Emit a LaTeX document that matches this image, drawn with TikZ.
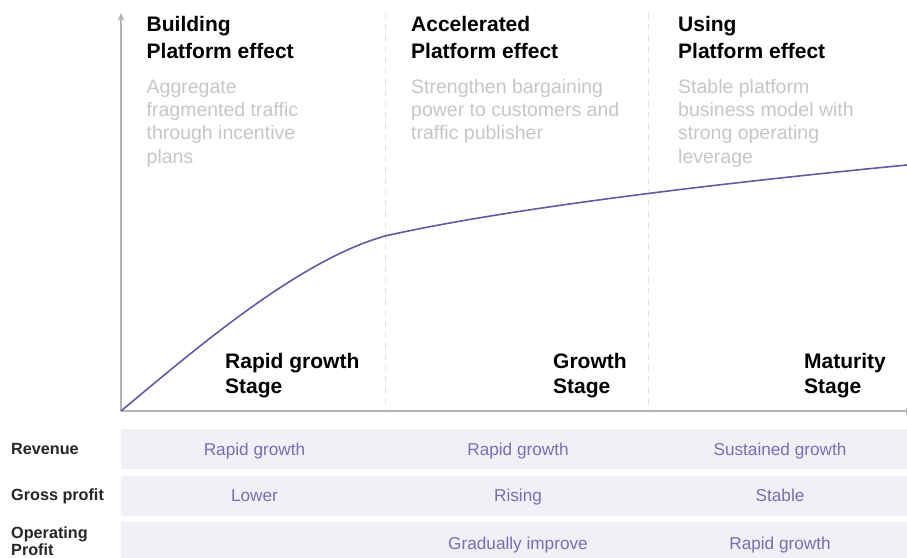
\documentclass[tikz,border=0pt]{standalone}
\usepackage{fontspec}
\setmainfont{Liberation Sans}
\usetikzlibrary{arrows.meta}
\definecolor{curvec}{HTML}{6A55A6}
\definecolor{cellbg}{HTML}{F1F0F7}
\definecolor{celltxt}{HTML}{7D6BB5}
\definecolor{desc}{HTML}{C6C6C6}
\definecolor{axisc}{HTML}{B4B4B4}
\definecolor{dashc}{HTML}{E0E0E0}
\tikzset{
  head/.style={anchor=base west, align=left, font=\fontsize{21}{26.6}\selectfont\bfseries, text=black, inner sep=0pt},
  descr/.style={anchor=base west, align=left, font=\fontsize{19.5}{23.3}\selectfont, text=desc, inner sep=0pt},
  stagelbl/.style={anchor=base west, align=left, font=\fontsize{21}{25}\selectfont\bfseries, text=black, inner sep=0pt},
  rowlbl/.style={anchor=base west, align=left, font=\fontsize{16.2}{17}\selectfont\bfseries, text=black!85, inner sep=0pt},
  cellrow/.style={fill=cellbg, draw=none, inner sep=0pt, anchor=north west},
  celltext/.style={anchor=base, font=\fontsize{17.2}{20}\selectfont, text=celltxt, inner sep=0pt},
  divider/.style={dashc, line width=1pt, dash pattern=on 6pt off 5pt},
}
\begin{document}
\begin{tikzpicture}[x=1pt,y=-1pt]
\useasboundingbox (0,0) rectangle (907,557);
% axes
\coordinate (O) at (121,411);
\coordinate (Ytop) at (121,13);
\coordinate (Xend) at (907,411);
\coordinate (D1t) at (385,13);
\coordinate (D1b) at (385,411);
\coordinate (D2t) at (648,13);
\coordinate (D2b) at (648,411);
\draw[divider] (D1t) -- (D1b);
\draw[divider] (D2t) -- (D2b);
\draw[axisc, line width=1.2pt, -{Stealth[length=8pt,width=7pt]}] (O) -- (Ytop);
\draw[axisc, line width=1.2pt, -{Bar[width=7pt]}] (O) -- (Xend);
% curve
\coordinate (K1) at (385,236);
\coordinate (K2) at (907,165);
\draw[curvec, line width=1.6pt] (O) .. controls (200,345) and (300,260) .. (K1)
  .. controls (500,210) and (700,185) .. (K2);
% headings (anchor at baseline of last line)
\node[head] (h1) at (146.5,58.3) {Building\\Platform effect};
\node[head] (h2) at (411,58.3) {Accelerated\\Platform effect};
\node[head] (h3) at (678,58.3) {Using\\Platform effect};
\node[descr] (d1) at (146.5,163.2) {Aggregate\\fragmented traffic\\through incentive\\plans};
\node[descr] (d2) at (411,139.9) {Strengthen bargaining\\power to customers and\\traffic publisher};
\node[descr] (d3) at (678,163.2) {Stable platform\\business model with\\strong operating\\leverage};
% stage labels
\node[stagelbl] (s1) at (225,393.3) {Rapid growth\\Stage};
\node[stagelbl] (s2) at (553,393.3) {Growth\\Stage};
\node[stagelbl] (s3) at (804,393.3) {Maturity\\Stage};
% table rows
\node[cellrow, minimum width=786pt, minimum height=40pt] (r1) at (121,429) {};
\node[cellrow, minimum width=786pt, minimum height=40pt] (r2) at (121,476) {};
\node[cellrow, minimum width=786pt, minimum height=36pt] (r3) at (121,522) {};
\node[rowlbl] (l1) at (11,454) {Revenue};
\node[rowlbl] (l2) at (11,500.5) {Gross profit};
\node[rowlbl] (l3) at (11,555) {Operating\\Profit};
\node[celltext] (c11) at (254.5,455) {Rapid growth};
\node[celltext] (c12) at (518,455) {Rapid growth};
\node[celltext] (c13) at (780,455) {Sustained growth};
\node[celltext] (c21) at (254.5,501.7) {Lower};
\node[celltext] (c22) at (518,501.7) {Rising};
\node[celltext] (c23) at (780,501.7) {Stable};
\node[celltext] (c32) at (518,549) {Gradually improve};
\node[celltext] (c33) at (780,549) {Rapid growth};
\end{tikzpicture}
\end{document}
